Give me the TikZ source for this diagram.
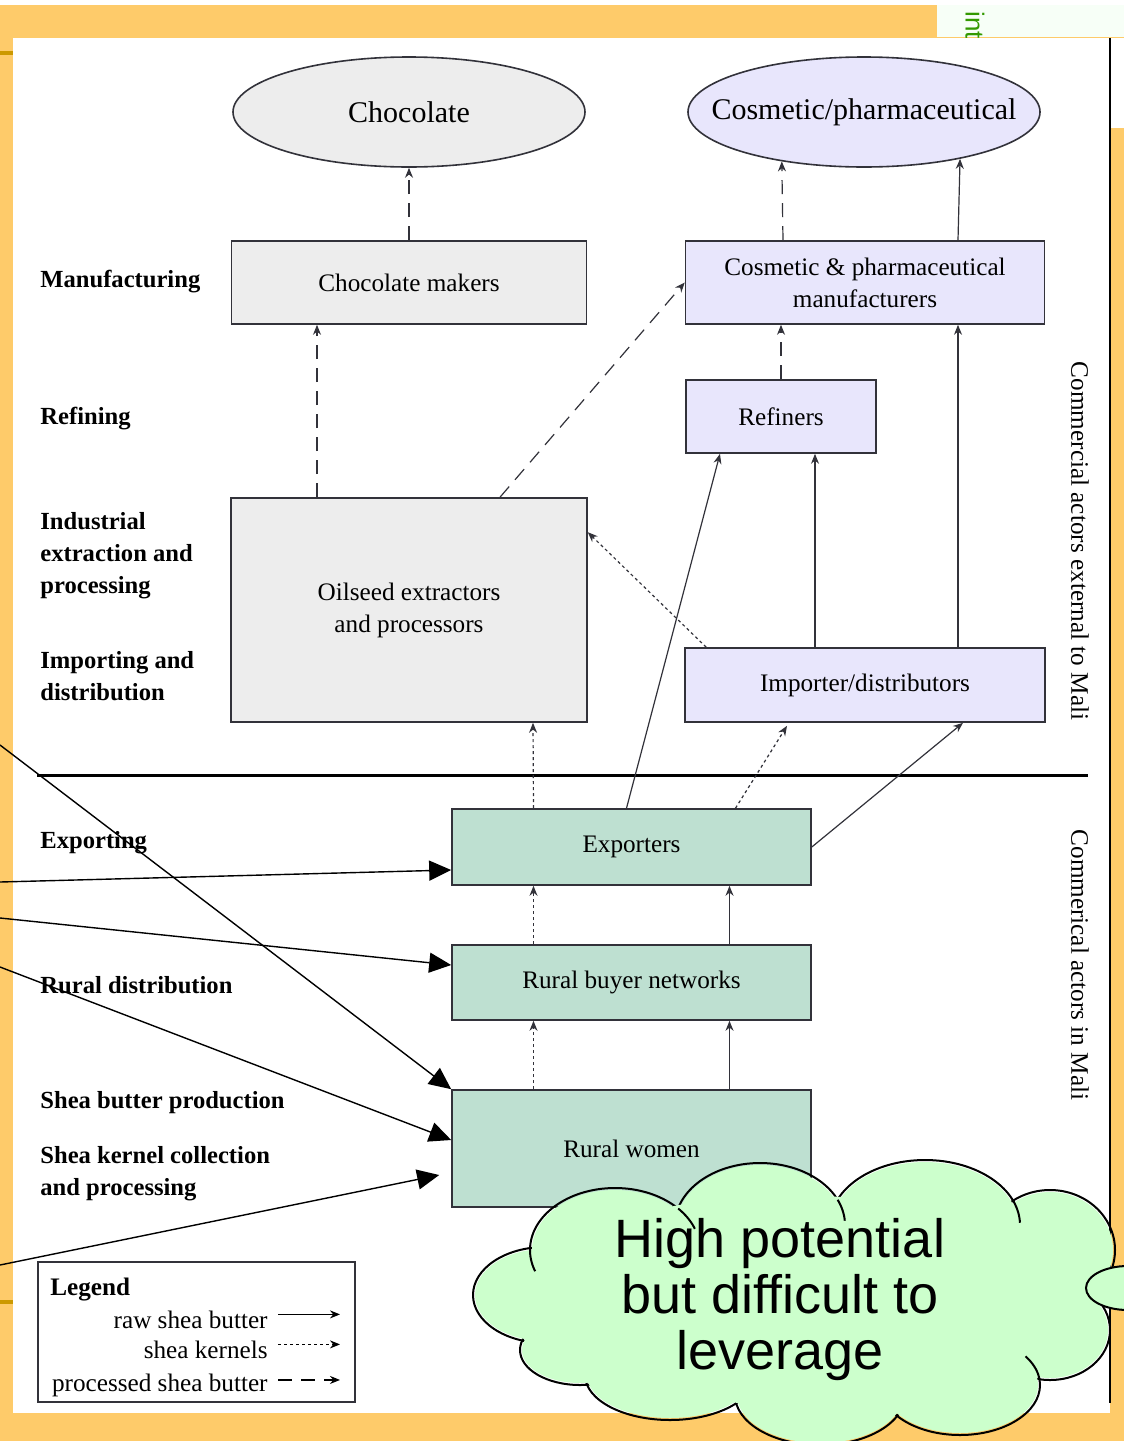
\documentclass[tikz,border=0pt]{standalone}
\usepackage{fontspec}
\setmainfont{Liberation Serif}
\newfontfamily\cloudfont{Liberation Sans}
\usetikzlibrary{arrows.meta,shapes.geometric,calc}

\definecolor{slideorange}{RGB}{254,203,106}
\definecolor{slidegold}{RGB}{204,153,0}
\definecolor{intgreen}{RGB}{51,153,0}
\definecolor{greyfill}{RGB}{237,237,237}
\definecolor{lilacfill}{RGB}{232,230,252}
\definecolor{mintfill}{RGB}{190,224,209}
\definecolor{cloudgreen}{RGB}{204,255,204}
\definecolor{edgegrey}{RGB}{50,50,58}

\begin{document}
\begin{tikzpicture}[x=0.5pt,y=-0.5pt,
  actor/.style={rectangle,draw=edgegrey,line width=0.8pt,align=center,inner sep=0pt,
    font=\fontsize{12.6}{16}\selectfont},
  greyactor/.style={actor,fill=greyfill},
  lilacactor/.style={actor,fill=lilacfill},
  mintactor/.style={actor,fill=mintfill,minimum width=179.5pt},
  market/.style={ellipse,draw=edgegrey,line width=0.8pt,inner sep=0pt,
    minimum width=176pt,minimum height=55pt,
    label={[font=\fontsize{15}{18}\selectfont]center:#1}},
  stage/.style={anchor=west,align=left,inner sep=0pt,font=\fontsize{12.3}{16}\selectfont\bfseries},
  sidelabel/.style={rotate=-90,font=\fontsize{12.6}{15}\selectfont},
  flow/.style={draw=edgegrey,line width=0.6pt,-{Stealth[length=5pt,width=4pt]}},
  rawflow/.style={flow},
  kernelflow/.style={flow,dash pattern=on 1.5pt off 1.5pt},
  procflow/.style={flow,dash pattern=on 7pt off 4.5pt},
  callarrow/.style={black,line width=0.7pt,-{Triangle[length=11pt,width=10pt]}},
  legtext/.style={anchor=base east,inner sep=0pt,font=\fontsize{12.6}{15}\selectfont}]

\useasboundingbox (0,0) rectangle (1124,1441);
\clip (0,0) rectangle (1124,1441);

% slide background
\fill[slideorange] (0,0) rectangle (1124,1441);
\fill[white] (0,0) rectangle (1124,5);
\fill[white!97!green] (937,5) rectangle (1124,37);
\node[rotate=-90,text=intgreen,font=\cloudfont\fontsize{13}{13}\selectfont] (intword) at (975,25) {int};
\fill[white] (13,38) rectangle (1110,1413);
\fill[white] (1110,38) rectangle (1124,128);
\draw[line width=1pt] (1110,38) -- (1110,1403);
\fill[slidegold] (0,51) rectangle (13,55);
\fill[slidegold] (0,1300) rectangle (13,1304);

% end markets
\node[market=Chocolate,fill=greyfill] (choc) at (409,112) {};
\node[market=Cosmetic/pharmaceutical,fill=lilacfill] (cosm) at (864,112) {};

% actors
\node[greyactor,minimum width=177.5pt,minimum height=41.5pt] (chm) at (409,282.5) {Chocolate makers};
\node[lilacactor,minimum width=179.5pt,minimum height=41.5pt] (cpm) at (865,282.5) {Cosmetic \& pharmaceutical\\manufacturers};
\node[lilacactor,minimum width=95pt,minimum height=36.5pt] (ref) at (781,416.5) {Refiners};
\node[greyactor,minimum width=178pt,minimum height=112pt] (oil) at (409,610) {Oilseed extractors\\and processors};
\node[lilacactor,minimum width=180pt,minimum height=37pt] (imp) at (865,685) {Importer/distributors};
\node[mintactor,minimum height=38pt] (exp) at (631.5,847) {Exporters};
\node[mintactor,minimum height=37.5pt] (rbn) at (631.5,982.5) {Rural buyer networks};
\node[mintactor,minimum height=58.5pt] (rw) at (631.5,1148.5) {Rural women};

% stages
\node[stage] (lman) at (40,282) {Manufacturing};
\node[stage] (lref) at (40,419) {Refining};
\node[stage] (lind) at (40,556) {Industrial\\extraction and\\processing};
\node[stage] (limp) at (40,676) {Importing and\\distribution};
\node[stage] (lexp) at (40,843) {Exporting};
\node[stage] (lrur) at (40,985) {Rural distribution};
\node[stage] (lshb) at (40,1103) {Shea butter production};
\node[stage] (lshk) at (40,1174) {Shea kernel collection\\and processing};

\node[sidelabel] (outside) at (1080,541) {Commercial actors external to Mali};
\node[sidelabel] (inside) at (1080,965) {Commerical actors in Mali};
\draw[line width=1.5pt] (37,775) -- (1088,775);

% processed shea butter
\draw[procflow] (chm) -- (choc);
\draw[procflow] ($(cpm.north)+(-82,0)$) -- (cosm.211);
\draw[procflow] ($(oil.north)+(-92,0)$) -- ($(chm.south)+(-92,0)$);
\draw[procflow] ($(oil.north)+(91,0)$) -- (cpm.west);
\draw[procflow] (ref.north) -- (ref.north |- cpm.south);

% raw shea butter
\draw[rawflow] ($(cpm.north)+(93,0)$) -- (cosm.334);
\draw[rawflow] ($(imp.north)+(93,0)$) -- ($(cpm.south)+(93,0)$);
\draw[rawflow] ($(imp.north)+(-50,0)$) -- ($(ref.south)+(34,0)$);
\draw[rawflow] ($(exp.north)+(-5,0)$) -- ($(ref.south)+(-61,0)$);
\draw[rawflow] (exp.east) -- ($(imp.south)+(98,0)$);
\draw[rawflow] ($(rbn.north)+(98,0)$) -- ($(exp.south)+(98,0)$);
\draw[rawflow] ($(rw.north)+(98,0)$) -- ($(rbn.south)+(98,0)$);

% shea kernels
\draw[kernelflow] ($(imp.north west)+(22,0)$) -- ($(oil.north east)+(0,35)$);
\draw[kernelflow] ($(exp.north)+(-98,0)$) -- ($(oil.south)+(124,0)$);
\draw[kernelflow] ($(exp.north)+(104,0)$) -- ($(imp.south)+(-78,3)$);
\draw[kernelflow] ($(rbn.north)+(-98,0)$) -- ($(exp.south)+(-98,0)$);
\draw[kernelflow] ($(rw.north)+(-98,0)$) -- ($(rbn.south)+(-98,0)$);

% legend
\node[draw=edgegrey,line width=0.8pt,minimum width=158.5pt,minimum height=70pt] (legend) at (196.5,1332) {};
\node[anchor=base west,inner sep=0pt,font=\fontsize{12.6}{15}\selectfont\bfseries] (legtitle) at (50,1295) {Legend};
\node[legtext] (lraw) at (268,1328) {raw shea butter};
\node[legtext] (lker) at (268,1358) {shea kernels};
\node[legtext] (lproc) at (268,1391) {processed shea butter};
\draw[rawflow,draw=black] ($(lraw.east)+(10,-5)$) -- ($(lraw.east)+(72,-5)$);
\draw[kernelflow,draw=black] ($(lker.east)+(10,-5)$) -- ($(lker.east)+(72,-5)$);
\draw[procflow,draw=black] ($(lproc.east)+(10,-5)$) -- ($(lproc.east)+(72,-5)$);

% callout arrows from the slide
\coordinate (s1) at (0,745);
\coordinate (s2) at (0,882);
\coordinate (s3) at (0,918);
\coordinate (s4) at (0,967);
\coordinate (s5) at (0,1265);
\draw[callarrow] (s1) -- (rw.north west);
\draw[callarrow] (s2) -- ($(exp.west)+(0,23)$);
\draw[callarrow] (s3) -- ($(rbn.west)+(0,-17.5)$);
\draw[callarrow] (s4) -- ($(rw.west)+(0,-8.5)$);
\draw[callarrow] (s5) -- ($(rw.west)+(-12,26.5)$);

% cloud
\foreach \cx/\cy/\rx/\ry in {545/1295/72/48,615/1250/85/62,760/1225/85/62,925/1225/95/65,
    1050/1250/65/60,1050/1330/60/50,960/1385/80/50,820/1395/85/50,670/1375/85/45,580/1350/60/35}
  \draw[line width=1pt] (\cx,\cy) ellipse [x radius=\rx, y radius=\ry];
\foreach \cx/\cy/\rx/\ry in {545/1295/72/48,615/1250/85/62,760/1225/85/62,925/1225/95/65,
    1050/1250/65/60,1050/1330/60/50,960/1385/80/50,820/1395/85/50,670/1375/85/45,580/1350/60/35}
  \fill[cloudgreen] (\cx,\cy) ellipse [x radius=\rx-2, y radius=\ry-2];
\fill[cloudgreen] (790,1300) ellipse [x radius=260, y radius=105];
% inner creases of the cloud
\foreach \cx/\cy/\rx/\ry/\ta/\tb in {615/1250/85/62/160/182,615/1250/85/62/-42/-20,
    760/1225/85/62/-24/-4,925/1225/95/65/-22/-2,960/1385/80/50/-35/-7}
  \draw[line width=1pt] plot[domain=\ta:\tb,samples=12,smooth] ({\cx+\rx*cos(\x)},{\cy+\ry*sin(\x)});
\draw[line width=1pt,fill=cloudgreen] (1128,1288) ellipse [x radius=42, y radius=22];
\node[font=\cloudfont\fontsize{27}{28}\selectfont,align=center] (cloudtext) at (780,1300)
  {High potential\\but difficult to\\leverage};
\end{tikzpicture}
\end{document}
